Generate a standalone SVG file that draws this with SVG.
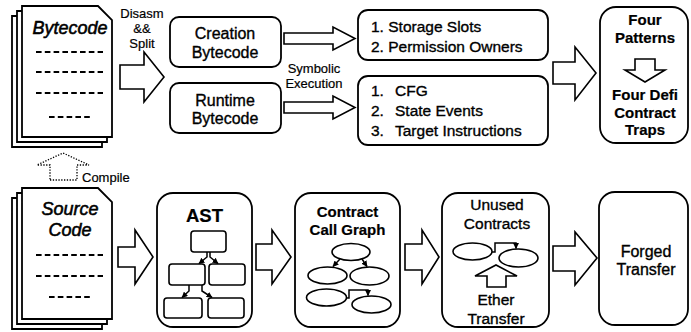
<svg xmlns="http://www.w3.org/2000/svg" width="691" height="332" viewBox="0 0 691 332">
  <defs>
    <style>
      .box { fill: #fff; stroke: #000; stroke-width: 1.8; }
      .page { fill: #fff; stroke: #000; stroke-width: 1.8; stroke-linejoin: miter; }
      .fat { fill: #fff; stroke: #000; stroke-width: 1.6; stroke-linejoin: miter; }
      .dots { fill: none; stroke: #000; stroke-width: 1.3; stroke-dasharray: 1.3 1.5; }
      .dash { stroke: #000; stroke-width: 2; stroke-dasharray: 5.6 3.2; }
      .mini { fill: #fff; stroke: #000; stroke-width: 1.6; }
      .link { fill: none; stroke: #000; stroke-width: 1.5; marker-end: url(#tip); }
      text { font-family: "Liberation Sans", Arial, sans-serif; fill: #000; stroke: #000; stroke-width: 0.35; }
      .c { text-anchor: middle; }
      .b { font-weight: bold; stroke-width: 0.2; }
      .it { font-style: italic; font-size: 18px; stroke-width: 0.55; }
      .lbl { font-size: 13px; stroke-width: 0.2; }
      .mid { font-size: 16px; }
      .list { font-size: 15.5px; }
    </style>
    <marker id="tip" viewBox="0 0 10 10" refX="9" refY="5" markerWidth="6" markerHeight="6" markerUnits="userSpaceOnUse" orient="auto">
      <path d="M0,0 L10,5 L0,10 Z" fill="#000"/>
    </marker>
    <path id="doc" d="M22,6 H98 L112,20 V137 H22 Z"/>
  </defs>

  <!-- Bytecode document stack -->
  <g id="bytecode">
    <use href="#doc" class="page" transform="translate(-10,10)"/>
    <use href="#doc" class="page" transform="translate(-5,5)"/>
    <use href="#doc" class="page"/>
    <text x="70" y="34" class="c it">Bytecode</text>
    <line x1="36" y1="52" x2="103" y2="52" class="dash"/>
    <line x1="36" y1="72" x2="103" y2="72" class="dash"/>
    <line x1="36" y1="93" x2="103" y2="93" class="dash"/>
    <line x1="49" y1="117" x2="92" y2="117" class="dash"/>
  </g>

  <!-- Source code document stack -->
  <g id="source-code">
    <use href="#doc" class="page" transform="translate(-10,192)"/>
    <use href="#doc" class="page" transform="translate(-5,187)"/>
    <use href="#doc" class="page" transform="translate(0,182)"/>
    <text x="70" y="215" class="c it">Source</text>
    <text x="70" y="236" class="c it">Code</text>
    <line x1="36" y1="255" x2="103" y2="255" class="dash"/>
    <line x1="36" y1="276" x2="103" y2="276" class="dash"/>
    <line x1="49" y1="297" x2="92" y2="297" class="dash"/>
  </g>

  <g id="creation-bytecode">
    <rect x="170" y="17" width="111" height="50" rx="9" class="box"/>
    <text x="225" y="39" class="c mid">Creation</text>
    <text x="225" y="58" class="c mid">Bytecode</text>
  </g>

  <g id="runtime-bytecode">
    <rect x="170" y="83" width="111" height="50" rx="9" class="box"/>
    <text x="225" y="106" class="c mid">Runtime</text>
    <text x="225" y="124" class="c mid">Bytecode</text>
  </g>

  <g id="storage-info">
    <rect x="358" y="10" width="190" height="50" rx="10" class="box"/>
    <text x="371" y="32" class="list">1. Storage Slots</text>
    <text x="371" y="52" class="list">2. Permission Owners</text>
  </g>

  <g id="runtime-info">
    <rect x="358" y="76" width="190" height="69" rx="10" class="box"/>
    <text x="371" y="96" class="list">1.</text>
    <text x="395" y="96" class="list">CFG</text>
    <text x="371" y="116" class="list">2.</text>
    <text x="395" y="116" class="list">State Events</text>
    <text x="371" y="136" class="list">3.</text>
    <text x="395" y="136" class="list">Target Instructions</text>
  </g>

  <g id="four-patterns">
    <rect x="600" y="7" width="88" height="136" rx="16" class="box"/>
    <text x="645" y="25" class="c b" font-size="15">Four</text>
    <text x="645" y="43" class="c b" font-size="15">Patterns</text>
    <polygon points="635,59 655,59 655,70 665,70 645,82 625,70 635,70" class="fat"/>
    <text x="645" y="100" class="c b" font-size="15">Four Defi</text>
    <text x="645" y="118" class="c b" font-size="15">Contract</text>
    <text x="645" y="135" class="c b" font-size="15">Traps</text>
  </g>

  <g id="ast">
    <rect x="157" y="193" width="95" height="134" rx="16" class="box"/>
    <text x="204.5" y="222" class="c b" font-size="18.5">AST</text>
    <rect x="191" y="231" width="35" height="21" rx="3" class="mini"/>
    <rect x="169" y="264" width="36" height="21" rx="3" class="mini"/>
    <rect x="209" y="264" width="36" height="21" rx="3" class="mini"/>
    <rect x="164" y="298" width="38" height="20" rx="3" class="mini"/>
    <rect x="208" y="298" width="36" height="20" rx="3" class="mini"/>
    <path d="M207,252 V257 L199,263.5" class="link"/>
    <path d="M210,252 V257 L218,263.5" class="link"/>
    <path d="M189,285 V291 L182,297.5" class="link"/>
    <path d="M202,285 V291 L212,297.5" class="link"/>
  </g>

  <g id="contract-call-graph">
    <rect x="295" y="193" width="105" height="134" rx="16" class="box"/>
    <text x="347.5" y="217" class="c b" font-size="15">Contract</text>
    <text x="347.5" y="235" class="c b" font-size="15">Call Graph</text>
    <ellipse cx="351" cy="252" rx="19" ry="8.5" class="mini"/>
    <ellipse cx="327.5" cy="275.5" rx="19.5" ry="8.5" class="mini"/>
    <ellipse cx="369.5" cy="276" rx="19.5" ry="9" class="mini"/>
    <ellipse cx="326.5" cy="297.5" rx="20" ry="8.5" class="mini"/>
    <ellipse cx="371.5" cy="304.5" rx="19.5" ry="8.5" class="mini"/>
    <path d="M340,259 L333,266.5" class="link"/>
    <path d="M362,259 L367,266.5" class="link"/>
    <path d="M346.5,298 H349 V290 H368 V295.5" class="link"/>
  </g>

  <g id="unused-contracts">
    <rect x="442" y="193" width="107" height="134" rx="16" class="box"/>
    <text x="497" y="210" class="c" font-size="15.5">Unused</text>
    <text x="497" y="229" class="c" font-size="15.5">Contracts</text>
    <ellipse cx="472.5" cy="251.5" rx="19.5" ry="8.5" class="mini"/>
    <ellipse cx="518.5" cy="258" rx="19.5" ry="9" class="mini"/>
    <path d="M492,252 H495 V243 H516 V248.5" class="link"/>
    <polygon points="487,287 506,287 506,276 517,276 496,265 475,276 487,276" class="fat"/>
    <text x="496" y="305" class="c" font-size="15.5">Ether</text>
    <text x="496" y="324" class="c" font-size="15.5">Transfer</text>
  </g>

  <g id="forged-transfer">
    <rect x="599" y="192" width="89" height="133" rx="16" class="box"/>
    <text x="646" y="257" class="c mid">Forged</text>
    <text x="646" y="275" class="c mid">Transfer</text>
  </g>

  <!-- Connectors: block arrows between stages, with their labels -->
  <g id="connectors">
    <polygon points="120,65 144,65 144,52 164,77 144,102 144,89 120,89" class="fat"/>
    <text x="142" y="18" class="c lbl">Disasm</text>
    <text x="142" y="33" class="c lbl">&amp;&amp;</text>
    <text x="142" y="48" class="c lbl">Split</text>

    <polygon points="284,33 333,33 333,27 355,38.5 333,50 333,44 284,44" class="fat"/>
    <polygon points="284,102 333,102 333,96 355,107.5 333,119 333,113 284,113" class="fat"/>
    <text x="314" y="73" class="c lbl" font-size="13.5">Symbolic</text>
    <text x="314" y="88" class="c lbl" font-size="13.5">Execution</text>

    <polygon points="553,62 575,62 575,47 596,73 575,100 575,84 553,84" class="fat"/>

    <polygon points="50,180 77,180 77,165 89,165 63,153 37,165 50,165" class="dots"/>
    <text x="82" y="182" class="lbl" font-size="14">Compile</text>

    <polygon points="118,247 135,247 135,230 153,257 135,284 135,267 118,267" class="fat"/>
    <polygon points="256,244 272,244 272,230 291,257 272,284 272,270 256,270" class="fat"/>
    <polygon points="405,244 422,244 422,230 439,257 422,284 422,270 405,270" class="fat"/>
    <polygon points="553,246 575,246 575,232 597,258 575,285 575,271 553,271" class="fat"/>
  </g>
</svg>
